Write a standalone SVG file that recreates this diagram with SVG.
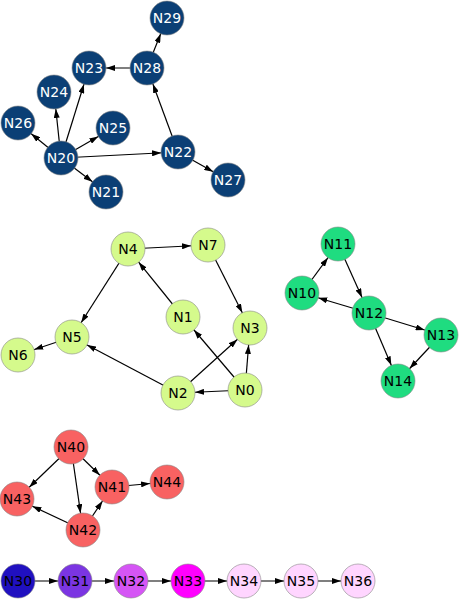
<svg xmlns="http://www.w3.org/2000/svg" width="460" height="599" viewBox="0 0 460 599">
<defs>
<marker id="a" markerUnits="userSpaceOnUse" markerWidth="9" markerHeight="6" refX="26" refY="3" orient="auto">
<path d="M0,0 L9,3 L0,6 z" fill="#000"/>
</marker>
<style>
.e line{stroke:#000;stroke-width:1.2;marker-end:url(#a)}
circle{r:17px;stroke:#888;stroke-width:0.6}
text{font-family:"DejaVu Sans",sans-serif;font-size:14px;text-anchor:middle;dominant-baseline:central}
.b circle{fill:#0b3f75}.b text{fill:#fff}
.y circle{fill:#d5fa8c}
.g circle{fill:#1fdc80}
.r circle{fill:#f86262}
</style>
</defs>
<rect width="460" height="599" fill="#fff"/>
<g class="e" id="edges">
<line x1="61" y1="158" x2="18" y2="123"/>
<line x1="61" y1="158" x2="54" y2="92"/>
<line x1="61" y1="158" x2="89" y2="68"/>
<line x1="61" y1="158" x2="113" y2="128"/>
<line x1="61" y1="158" x2="106" y2="192"/>
<line x1="61" y1="158" x2="178" y2="152"/>
<line x1="178" y1="152" x2="147" y2="68"/>
<line x1="178" y1="152" x2="228" y2="180"/>
<line x1="147" y1="68" x2="89" y2="68"/>
<line x1="147" y1="68" x2="167" y2="18"/>
<line x1="128" y1="249" x2="208" y2="245"/>
<line x1="208" y1="245" x2="250" y2="328"/>
<line x1="183" y1="317" x2="128" y2="249"/>
<line x1="128" y1="249" x2="72" y2="337"/>
<line x1="72" y1="337" x2="18" y2="355"/>
<line x1="178" y1="393" x2="72" y2="337"/>
<line x1="178" y1="393" x2="250" y2="328"/>
<line x1="245" y1="390" x2="183" y2="317"/>
<line x1="245" y1="390" x2="178" y2="393"/>
<line x1="245" y1="390" x2="250" y2="328"/>
<line x1="302" y1="293" x2="338" y2="244"/>
<line x1="338" y1="244" x2="369" y2="313"/>
<line x1="369" y1="313" x2="302" y2="293"/>
<line x1="369" y1="313" x2="441" y2="335"/>
<line x1="369" y1="313" x2="398" y2="381"/>
<line x1="441" y1="335" x2="398" y2="381"/>
<line x1="71" y1="447" x2="17" y2="499"/>
<line x1="71" y1="447" x2="83" y2="530"/>
<line x1="71" y1="447" x2="112" y2="487"/>
<line x1="112" y1="487" x2="167" y2="482"/>
<line x1="83" y1="530" x2="17" y2="499"/>
<line x1="83" y1="530" x2="112" y2="487"/>
<line x1="18" y1="581" x2="75" y2="581"/>
<line x1="75" y1="581" x2="131" y2="581"/>
<line x1="131" y1="581" x2="188" y2="581"/>
<line x1="188" y1="581" x2="244" y2="581"/>
<line x1="244" y1="581" x2="301" y2="581"/>
<line x1="301" y1="581" x2="358" y2="581"/>
</g>
<g class="b">
<g id="N20"><circle cx="61" cy="158"/><text x="61" y="158">N20</text></g>
<g id="N21"><circle cx="106" cy="192"/><text x="106" y="192">N21</text></g>
<g id="N22"><circle cx="178" cy="152"/><text x="178" y="152">N22</text></g>
<g id="N23"><circle cx="89" cy="68"/><text x="89" y="68">N23</text></g>
<g id="N24"><circle cx="54" cy="92"/><text x="54" y="92">N24</text></g>
<g id="N25"><circle cx="113" cy="128"/><text x="113" y="128">N25</text></g>
<g id="N26"><circle cx="18" cy="123"/><text x="18" y="123">N26</text></g>
<g id="N27"><circle cx="228" cy="180"/><text x="228" y="180">N27</text></g>
<g id="N28"><circle cx="147" cy="68"/><text x="147" y="68">N28</text></g>
<g id="N29"><circle cx="167" cy="18"/><text x="167" y="18">N29</text></g>
</g>
<g class="y">
<g id="N0"><circle cx="245" cy="390"/><text x="245" y="390">N0</text></g>
<g id="N1"><circle cx="183" cy="317"/><text x="183" y="317">N1</text></g>
<g id="N2"><circle cx="178" cy="393"/><text x="178" y="393">N2</text></g>
<g id="N3"><circle cx="250" cy="328"/><text x="250" y="328">N3</text></g>
<g id="N4"><circle cx="128" cy="249"/><text x="128" y="249">N4</text></g>
<g id="N5"><circle cx="72" cy="337"/><text x="72" y="337">N5</text></g>
<g id="N6"><circle cx="18" cy="355"/><text x="18" y="355">N6</text></g>
<g id="N7"><circle cx="208" cy="245"/><text x="208" y="245">N7</text></g>
</g>
<g class="g">
<g id="N10"><circle cx="302" cy="293"/><text x="302" y="293">N10</text></g>
<g id="N11"><circle cx="338" cy="244"/><text x="338" y="244">N11</text></g>
<g id="N12"><circle cx="369" cy="313"/><text x="369" y="313">N12</text></g>
<g id="N13"><circle cx="441" cy="335"/><text x="441" y="335">N13</text></g>
<g id="N14"><circle cx="398" cy="381"/><text x="398" y="381">N14</text></g>
</g>
<g class="r">
<g id="N40"><circle cx="71" cy="447"/><text x="71" y="447">N40</text></g>
<g id="N41"><circle cx="112" cy="487"/><text x="112" y="487">N41</text></g>
<g id="N42"><circle cx="83" cy="530"/><text x="83" y="530">N42</text></g>
<g id="N43"><circle cx="17" cy="499"/><text x="17" y="499">N43</text></g>
<g id="N44"><circle cx="167" cy="482"/><text x="167" y="482">N44</text></g>
</g>
<g id="N30"><circle cx="18" cy="581" fill="#2010c0"/><text x="18" y="581">N30</text></g>
<g id="N31"><circle cx="75" cy="581" fill="#7b35e2"/><text x="75" y="581">N31</text></g>
<g id="N32"><circle cx="131" cy="581" fill="#d555f5"/><text x="131" y="581">N32</text></g>
<g id="N33"><circle cx="188" cy="581" fill="#ff00ff"/><text x="188" y="581">N33</text></g>
<g id="N34"><circle cx="244" cy="581" fill="#ffd5ff"/><text x="244" y="581">N34</text></g>
<g id="N35"><circle cx="301" cy="581" fill="#ffd5ff"/><text x="301" y="581">N35</text></g>
<g id="N36"><circle cx="358" cy="581" fill="#ffd5ff"/><text x="358" y="581">N36</text></g>
</svg>
